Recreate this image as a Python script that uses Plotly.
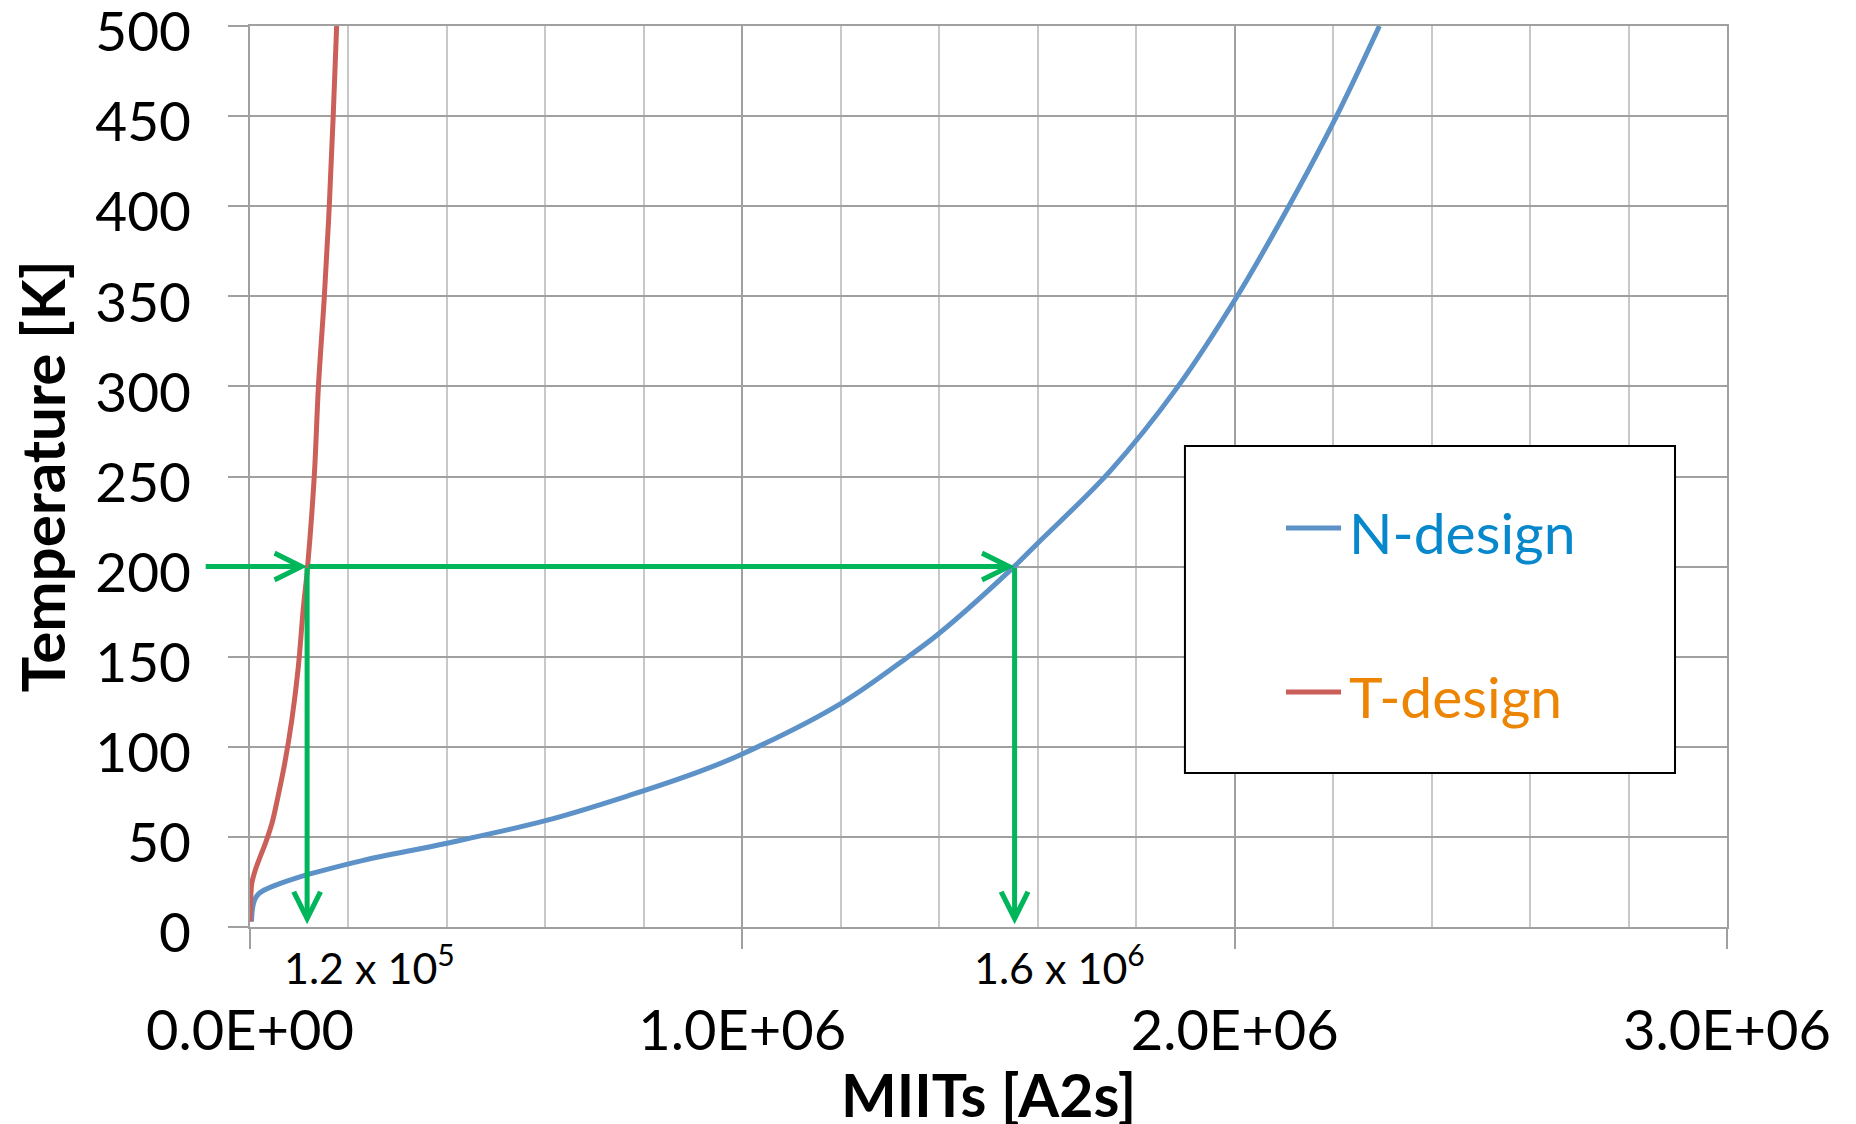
import plotly.graph_objects as go

# ---- data ----
n_miits = [3e3, 4.5e3, 7e3, 1.1e4, 2e4, 4.7e4, 9.5e4, 1.2e5, 2.3e5, 4.0e5, 6.0e5,
           7.7e5, 9.15e5, 1.0e6, 1.2e6, 1.337e6, 1.4e6, 1.552e6, 1.6e6, 1.747e6,
           1.885e6, 2.005e6, 2.11e6, 2.207e6, 2.294e6]
n_temp = [3, 9, 13, 16, 19, 22.7, 27.3, 29.3, 37, 46.5, 59,
          73, 86.5, 96, 124, 150, 163, 200, 213, 253,
          300, 350, 400, 450, 500]

t_miits = [0, 1.5e3, 3.5e3, 1.0e4, 2.0e4, 3.2e4, 4.5e4, 5.5e4, 7.0e4, 8.5e4, 9.8e4,
           1.08e5, 1.17e5, 1.305e5, 1.39e5, 1.51e5, 1.61e5, 1.69e5, 1.76e5]
t_temp = [3, 16, 24, 31, 38.5, 47, 58, 70, 90, 115, 144,
          176, 200, 250, 300, 350, 400, 450, 500]

x_tickvals = [0, 1e6, 2e6, 3e6]
x_ticktext = ["0.0E+00", "1.0E+06", "2.0E+06", "3.0E+06"]

target_temp = 200
t_cross = 1.16e5     # T-design MIITs at 200 K
n_cross = 1.553e6    # N-design MIITs at 200 K
arrow_start = -9.3e4

series_names = ["N-design", "T-design"]
line_colors = ["#5D92C8", "#CB5F5A"]
text_colors = ["#0787CC", "#EC8503"]
green = "#00B65A"
grid_major = "#A0A0A0"
grid_minor = "#C8C8C8"
FONT = "Lato"

fig = go.Figure()
fig.add_trace(go.Scatter(x=n_miits, y=n_temp, mode="lines", name=series_names[0],
                         line=dict(color=line_colors[0], width=5, shape="spline", smoothing=1.0),
                         showlegend=False, cliponaxis=True))
fig.add_trace(go.Scatter(x=t_miits, y=t_temp, mode="lines", name=series_names[1],
                         line=dict(color=line_colors[1], width=5, shape="spline", smoothing=1.0),
                         showlegend=False, cliponaxis=True))

# green arrows
arrows = [
    (t_cross, target_temp, arrow_start, target_temp),
    (n_cross, target_temp, t_cross, target_temp),
    (t_cross, 1.5, t_cross, target_temp),
    (n_cross, 1.5, n_cross, target_temp),
]
for hx, hy, tx, ty in arrows:
    fig.add_annotation(x=hx, y=hy, ax=tx, ay=ty, xref="x", yref="y", axref="x", ayref="y",
                       text="", showarrow=True, arrowhead=5, arrowsize=1.05,
                       arrowwidth=5, arrowcolor=green)

# value labels
fig.add_annotation(x=6.6e4, y=-0.042, xref="x", yref="paper", xanchor="left", yanchor="middle",
                   text="1.2 x 10<sup>5</sup>", showarrow=False,
                   font=dict(family=FONT, size=43, color="black"))
fig.add_annotation(x=1.466e6, y=-0.042, xref="x", yref="paper", xanchor="left", yanchor="middle",
                   text="1.6 x 10<sup>6</sup>", showarrow=False,
                   font=dict(family=FONT, size=43, color="black"))

# axis titles (placed as annotations for exact positioning)
fig.add_annotation(x=0.5, y=-0.186, xref="paper", yref="paper", xanchor="center", yanchor="middle",
                   text="<b>MIITs [A2s]</b>", showarrow=False,
                   font=dict(family=FONT, size=59, color="black"))
fig.add_annotation(x=-0.1415, y=0.5, xref="paper", yref="paper", xanchor="center", yanchor="middle",
                   text="<b>Temperature [K]</b>", showarrow=False, textangle=-90,
                   font=dict(family=FONT, size=60, color="black"))

# legend (drawn)
fig.add_shape(type="rect", xref="paper", yref="paper", x0=0.633, x1=0.9648, y0=0.1709, y1=0.5338,
              line=dict(color="black", width=2), fillcolor="white", layer="above")
leg_y = [0.4428, 0.2608]
for i in range(2):
    fig.add_shape(type="line", xref="paper", yref="paper", x0=0.7014, x1=0.7387,
                  y0=leg_y[i], y1=leg_y[i], line=dict(color=line_colors[i], width=5), layer="above")
    fig.add_annotation(x=0.7427, y=leg_y[i] - 0.004, xref="paper", yref="paper",
                       xanchor="left", yanchor="middle", text=series_names[i], showarrow=False,
                       font=dict(family=FONT, size=57, color=text_colors[i]))

# page body adds an 8px margin, so the figure is sized/offset to compensate
fig.update_layout(
    width=1840, height=1116,
    margin=dict(l=242, r=121, t=18, b=197, autoexpand=False),
    paper_bgcolor="white", plot_bgcolor="white",
    font=dict(family=FONT, color="black"),
    showlegend=False,
)
fig.update_xaxes(
    range=[0, 3e6], tickvals=x_tickvals, ticktext=x_ticktext,
    tickfont=dict(family=FONT, size=56, color="black"),
    ticks="outside", ticklen=20, tickwidth=2, tickcolor=grid_major,
    ticklabelstandoff=34, ticklabeloverflow="allow",
    showgrid=True, gridcolor=grid_major, gridwidth=2,
    minor=dict(dtick=2e5, showgrid=True, gridcolor=grid_minor, gridwidth=2, ticks=""),
    zeroline=False, showline=True, mirror=True, linecolor=grid_major, linewidth=2,
    automargin=False,
)
fig.update_yaxes(
    range=[0, 500], dtick=50,
    tickfont=dict(family=FONT, size=55, color="black"),
    ticks="outside", ticklen=20, tickwidth=2, tickcolor=grid_major,
    ticklabelstandoff=26, ticklabelshift=6, ticklabeloverflow="allow",
    showgrid=True, gridcolor=grid_major, gridwidth=2,
    zeroline=False, showline=True, mirror=True, linecolor=grid_major, linewidth=2,
    automargin=False,
)

fig.write_html("out.html")
